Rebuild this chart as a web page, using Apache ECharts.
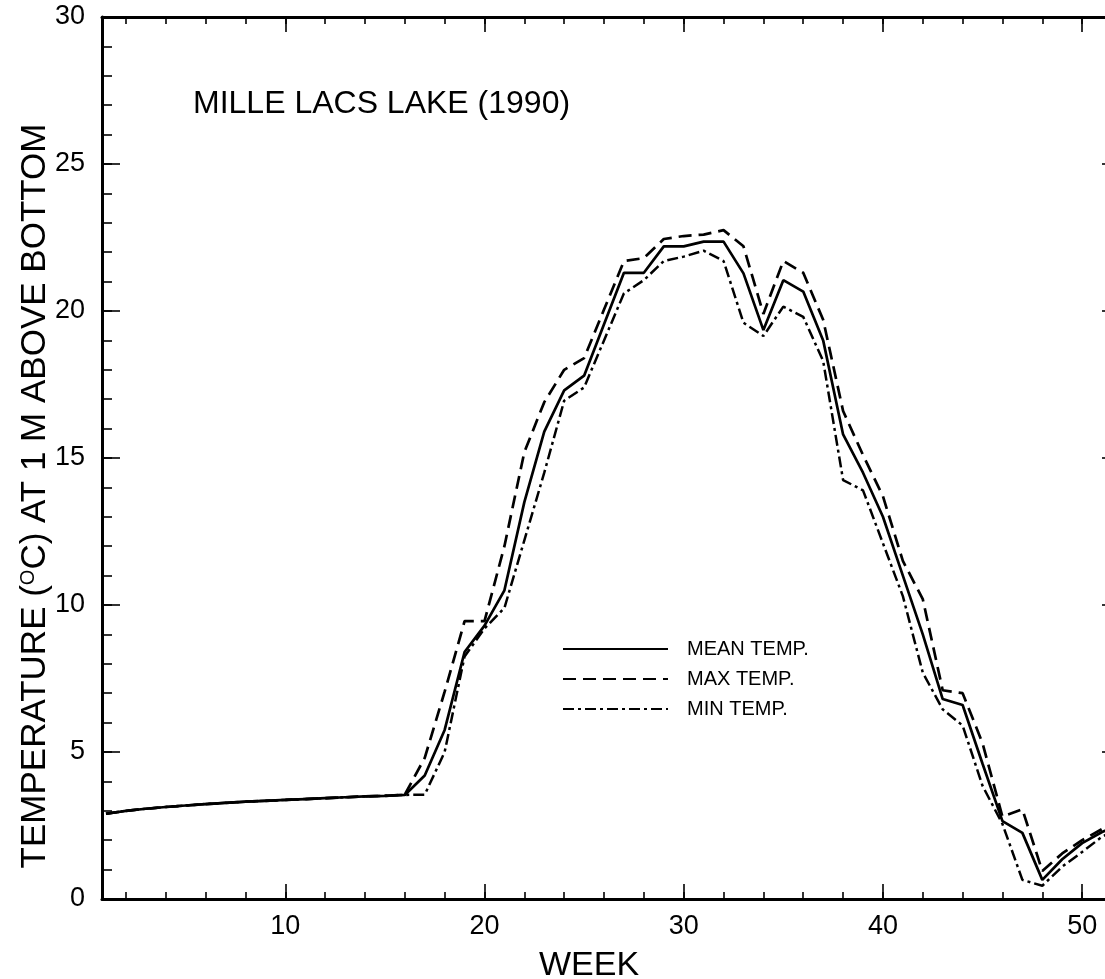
<!DOCTYPE html>
<html>
<head>
<meta charset="utf-8">
<script src="https://cdn.jsdelivr.net/npm/echarts@6/dist/echarts.min.js"></script>
<style>
html,body{margin:0;padding:0;background:#fff;}
#chart{width:1105px;height:979px;}
</style>
</head>
<body>
<div id="chart"></div>
<script>
const weeks = [1,2,3,4,5,6,7,8,9,10,11,12,13,14,15,16,17,18,19,20,21,22,23,24,25,26,27,28,29,30,31,32,33,34,35,36,37,38,39,40,41,42,43,44,45,46,47,48,49,50,51,52];
const meanTemp = [2.90,3.00,3.07,3.13,3.18,3.23,3.27,3.31,3.34,3.37,3.40,3.43,3.46,3.49,3.51,3.54,
  4.2,5.75,8.4,9.3,10.5,13.5,15.9,17.3,17.8,19.55,21.3,21.3,22.2,22.2,22.36,22.36,21.28,19.35,21.05,20.66,19.0,
  15.8,14.5,13.0,11.0,9.0,6.8,6.6,4.6,2.65,2.25,0.65,1.35,1.9,2.28,2.55];
const maxTemp = [2.90,3.00,3.07,3.13,3.18,3.23,3.27,3.31,3.34,3.37,3.40,3.43,3.46,3.49,3.51,3.55,
  4.8,7.05,9.45,9.45,12.0,15.2,16.9,18.0,18.4,20.05,21.7,21.8,22.45,22.55,22.6,22.75,22.2,19.9,21.7,21.3,19.7,
  16.6,15.1,13.7,11.5,10.2,7.1,7.0,5.3,2.8,3.05,0.95,1.55,2.0,2.38,2.65];
const minTemp = [2.90,3.00,3.07,3.13,3.18,3.23,3.27,3.31,3.34,3.37,3.40,3.43,3.46,3.49,3.51,3.54,
  3.55,5.0,8.25,9.2,9.9,12.2,14.5,16.95,17.4,19.0,20.6,21.05,21.7,21.85,22.05,21.7,19.6,19.15,20.15,19.8,18.3,
  14.25,13.9,12.1,10.3,7.7,6.45,5.9,3.85,2.55,0.65,0.45,1.1,1.6,2.12,2.45];
const xMinorTicks = [2,4,6,8,10,12,14,16,18,20,22,24,26,28,30,32,34,36,38,40,42,44,46,48,50];
const xMajorTicks = [10,20,30,40,50];
const yMinorTicks = [0,1,2,3,4,5,6,7,8,9,10,11,12,13,14,15,16,17,18,19,20,21,22,23,24,25,26,27,28,29,30];
const yMajorTicks = [5,10,15,20,25];
const yLabels = [0,5,10,15,20,25,30];
const seriesNames = ['MEAN TEMP.','MAX TEMP.','MIN TEMP.'];

const FONT = "'Liberation Sans', Arial, Helvetica, sans-serif";
const chart = echarts.init(document.getElementById('chart'), null, {renderer:'canvas'});

function xAx(pos, ticks, len, showLine, labels){
  return {
    type:'value', position:pos, min:0.8, max:51.9,
    axisLine:{show:showLine, onZero:false, lineStyle:{color:'#000', width:3}},
    axisTick:{show:true, inside:true, length:len, customValues:ticks, lineStyle:{color:'#000', width:1.6}},
    axisLabel: labels ? {show:true, customValues:labels, margin:14, color:'#000', fontSize:27, fontFamily:FONT} : {show:false},
    splitLine:{show:false}
  };
}
function yAx(pos, ticks, len, showLine, labels){
  return {
    type:'value', position:pos, min:0, max:30,
    axisLine:{show:showLine, onZero:false, lineStyle:{color:'#000', width:3}},
    axisTick:{show:true, inside:true, length:len, customValues:ticks, lineStyle:{color:'#000', width:1.6}},
    axisLabel: labels ? {show:true, customValues:labels, margin:17, color:'#000', fontSize:27, fontFamily:FONT} : {show:false},
    splitLine:{show:false}
  };
}

const xAxes = [
  xAx('bottom', xMinorTicks, 7, true, xMajorTicks),
  xAx('bottom', xMajorTicks, 15, false, null),
  xAx('top', xMinorTicks, 7, true, null),
  xAx('top', xMajorTicks, 15, false, null)
];
xAxes[0].name = 'WEEK';
xAxes[0].nameLocation = 'middle';
xAxes[0].nameGap = 50;
xAxes[0].nameMoveOverlap = false;
xAxes[0].nameTextStyle = {color:'#000', fontSize:34, fontFamily:FONT, padding:[0,44,0,0]};

const yAxes = [
  yAx('left', yMinorTicks, 10, true, yLabels),
  yAx('left', yMajorTicks, 18, false, null),
  yAx('right', yMinorTicks, 10, true, null),
  yAx('right', yMajorTicks, 18, false, null)
];
yAxes[0].name = 'TEMPERATURE ({sup|O}C) AT 1 M ABOVE BOTTOM';
yAxes[0].nameLocation = 'middle';
yAxes[0].nameGap = 49;
yAxes[0].nameMoveOverlap = false;
yAxes[0].nameTextStyle = {
  color:'#000', fontSize:35, fontFamily:FONT, padding:[0,76,0,0],
  rich:{ sup:{fontSize:20, fontFamily:FONT, color:'#000', verticalAlign:'top', padding:[0,0,11,0]} }
};

const styles = [
  {type:'solid', width:2.7},
  {type:[13,7], width:2.7},
  {type:[11,4,3,4], width:2.5}
];
const values = [meanTemp, maxTemp, minTemp];

chart.setOption({
  backgroundColor:'#fff',
  animation:false,
  title:{
    text:'MILLE LACS LAKE (1990)', left:188, top:83,
    textStyle:{color:'#000', fontSize:32, fontWeight:'normal', fontFamily:FONT}
  },
  legend:{
    orient:'vertical', left:562, top:639, padding:0,
    itemWidth:105, itemHeight:20, itemGap:10,
    data:seriesNames,
    itemStyle:{opacity:0},
    textStyle:{color:'#000', fontSize:20, fontFamily:FONT, lineHeight:20, padding:[0,0,0,14]}
  },
  grid:{left:102, right:-15, top:17, bottom:80, containLabel:false, outerBoundsMode:'none'},
  xAxis:xAxes,
  yAxis:yAxes,
  series: seriesNames.map((nm,i)=>({
    name:nm, type:'line', xAxisIndex:0, yAxisIndex:0,
    data: weeks.map((w,j)=>[w, values[i][j]]),
    symbol:'none', showSymbol:false, smooth:false,
    lineStyle:{color:'#000', width:styles[i].width, type:styles[i].type},
    itemStyle:{color:'#000'},
    z: 3-i
  }))
});
</script>
</body>
</html>
